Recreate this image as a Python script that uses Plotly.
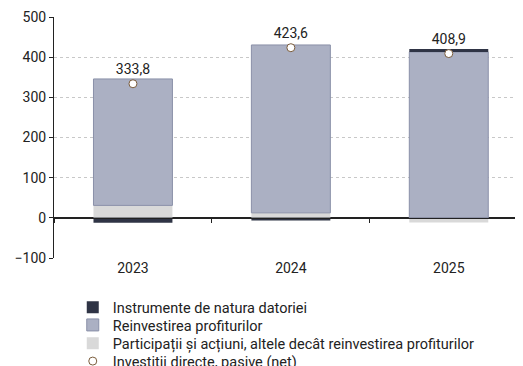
import plotly.graph_objects as go

years = ['2023', '2024', '2025']
debt = [-12.0, -6.8, 7.4]                 # Instrumente de natura datoriei
reinvested = [314.8, 418.0, 413.0]        # Reinvestirea profiturilor
equity = [31.0, 12.4, -11.5]              # Participatii si actiuni
net = [333.8, 423.6, 408.9]               # Investitii directe, pasive (net)

y_ticks = [-100, 0, 100, 200, 300, 400, 500]

fig = go.Figure()
fig.add_trace(go.Bar(x=years, y=equity, name='Participații și acțiuni, altele decât reinvestirea profiturilor',
                     marker=dict(color='#d9d9d9', line=dict(width=0)), width=0.5, legend='legend3'))
fig.add_trace(go.Bar(x=years, y=reinvested, name='Reinvestirea profiturilor',
                     marker=dict(color='#abb0c3', line=dict(color='#8a90a8', width=1)), width=0.5,
                     legend='legend2'))
fig.add_trace(go.Bar(x=years, y=debt, name='Instrumente de natura datoriei',
                     marker=dict(color='#2f3445', line=dict(width=0)), width=0.5, legend='legend'))
fig.add_trace(go.Scatter(x=years, y=net, name='Investitii directe, pasive (net)', mode='markers+text',
                         text=[f'{v:.1f}'.replace('.', ',') for v in net], textposition='top center',
                         textfont=dict(size=14, color='#222'),
                         marker=dict(size=8, color='white', line=dict(color='#7a5c3c', width=1)),
                         legend='legend4'))
# empty copy of the x axis sitting on y=0: zero line plus boundary ticks
fig.add_trace(go.Bar(x=years, y=[0, 0, 0], xaxis='x2', yaxis='y', showlegend=False, hoverinfo='skip',
                     marker=dict(color='rgba(0,0,0,0)', line=dict(width=0))))

leg = dict(x=0.04, xanchor='left', yanchor='middle', font=dict(size=14.5, color='#222'),
           bgcolor='rgba(0,0,0,0)', borderwidth=0)
rows = [-0.205, -0.278, -0.354, -0.428]

# page has an 8px body margin, so the figure is 8px smaller than the window
fig.update_layout(
    barmode='relative',
    width=515, height=358,
    margin=dict(l=46, r=0, t=9, b=108, autoexpand=False),
    paper_bgcolor='white', plot_bgcolor='white',
    font=dict(family='Roboto', size=14, color='#222'),
    showlegend=True,
    legend=dict(leg, y=rows[0]),
    legend2=dict(leg, y=rows[1]),
    legend3=dict(leg, y=rows[2]),
    legend4=dict(leg, y=rows[3]),
    xaxis=dict(type='category', range=[-0.5, 2.47], showline=False, ticks='', showgrid=False,
               tickfont=dict(size=14)),
    xaxis2=dict(type='category', overlaying='x', range=[-0.5, 2.47], anchor='free', position=100 / 600,
                ticks='outside', ticklen=4, tickcolor='#222', tickson='boundaries',
                showticklabels=False, showline=True, linecolor='#222', linewidth=1,
                layer='above traces', showgrid=False, zeroline=False),
    yaxis=dict(range=[-100, 500], tickvals=y_ticks, showline=True, linecolor='#222', linewidth=1,
               ticks='outside', ticklen=4, tickcolor='#222', showgrid=True, gridcolor='#c8c8c8',
               griddash='dot', gridwidth=1, zeroline=True, zerolinecolor='#222', zerolinewidth=1,
               tickfont=dict(size=14)),
)

fig.write_html('out.html')
